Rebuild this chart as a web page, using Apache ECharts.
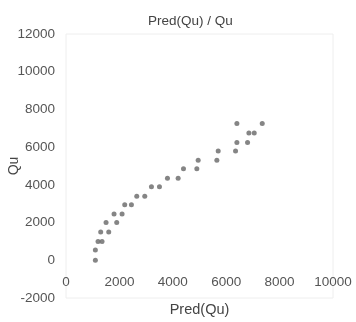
<!DOCTYPE html>
<html><head><meta charset="utf-8">
<script src="https://cdn.jsdelivr.net/npm/echarts@6/dist/echarts.min.js"></script>
<style>html,body{margin:0;padding:0;background:#fff}#c{width:356px;height:322px}</style>
</head><body><div id="c"></div>
<script>
const predQu = [1100,1100,1200,1350,1300,1600,1500,1900,1800,2100,2200,2450,2650,2950,3200,3500,3800,4200,4400,4900,4950,5650,5700,6350,6400,6800,6850,7050,6400,7350];
const qu = [0,550,1000,1000,1500,1500,2000,2000,2450,2450,2950,2950,3400,3400,3900,3900,4350,4350,4850,4850,5300,5300,5800,5800,6250,6250,6750,6750,7250,7250];
const chartTitle = 'Pred(Qu) / Qu';
const xName = 'Pred(Qu)';
const yName = 'Qu';
const points = predQu.map((x, i) => [x, qu[i]]);
const font = 'Liberation Sans, Arial, sans-serif';
const chart = echarts.init(document.getElementById('c'), null, {renderer: 'canvas'});
chart.setOption({
  animation: false,
  backgroundColor: '#fff',
  title: {text: chartTitle, left: 143, top: 9, textStyle: {fontSize: 13.5, fontWeight: 'normal', color: '#444', fontFamily: font}},
  grid: {left: 66, right: 23, top: 34, bottom: 24, show: true, borderColor: '#eeeeee', borderWidth: 1, containLabel: false, outerBoundsMode: 'none'},
  xAxis: {type: 'value', min: 0, max: 10000, interval: 2000, position: 'bottom', offset: -38,
    name: xName, nameLocation: 'middle', nameGap: 42, nameMoveOverlap: false,
    nameTextStyle: {fontSize: 14.5, color: '#444', fontFamily: font},
    axisLine: {show: false, onZero: false}, axisTick: {show: false},
    axisLabel: {margin: 15, fontSize: 13.5, color: '#555', fontFamily: font, formatter: v => String(v)},
    splitLine: {show: false}},
  yAxis: {type: 'value', min: -2000, max: 12000, interval: 2000,
    name: yName, nameLocation: 'middle', nameGap: 45, nameMoveOverlap: false,
    nameTextStyle: {fontSize: 14, color: '#444', fontFamily: font},
    axisLine: {show: false}, axisTick: {show: false},
    axisLabel: {margin: 11, fontSize: 13.5, color: '#555', fontFamily: font, formatter: v => String(v)},
    splitLine: {show: false}},
  series: [{type: 'scatter', data: points, symbolSize: 5, itemStyle: {color: '#666'}}]
});
</script></body></html>
